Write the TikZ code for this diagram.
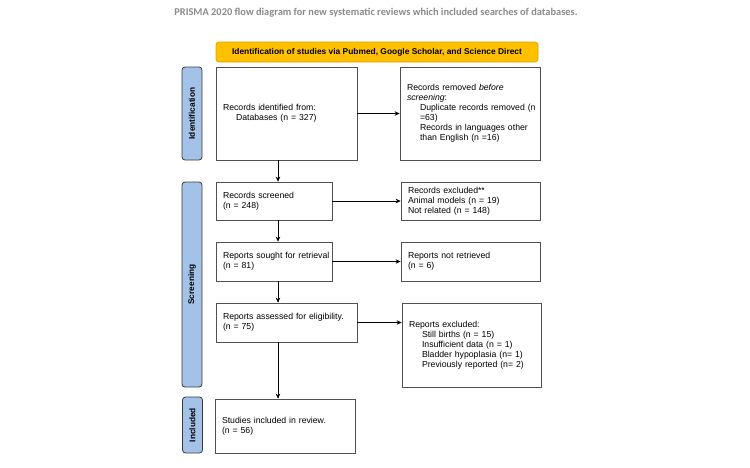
\documentclass[tikz,border=0pt]{standalone}
\usepackage{fontspec}
\setmainfont{Liberation Sans}
\newfontfamily\titlefont{Carlito}
\usetikzlibrary{arrows.meta}
\definecolor{boxline}{HTML}{505050}
\definecolor{sidefill}{HTML}{A4C2E8}
\definecolor{sideline}{HTML}{3A3A3A}
\definecolor{headfill}{HTML}{FFC000}
\definecolor{headline}{HTML}{D9A300}
\definecolor{titlegray}{HTML}{8A8A8A}
\newcommand{\ind}{\hspace*{13pt}}
\begin{document}
\begin{tikzpicture}[x=1pt,y=-1pt,
  box/.style={draw=boxline, line width=0.7pt, align=left, inner xsep=7pt, inner ysep=2pt,
    font=\fontsize{8.7}{10}\selectfont},
  sidebar/.style={draw=sideline, fill=sidefill, rounded corners=3pt, line width=0.8pt,
    font=\bfseries\fontsize{8.3}{10}\selectfont, rotate=90, minimum height=20pt, inner sep=0pt},
  arr/.style={draw=black, line width=0.7pt, -{Stealth[length=5pt,width=4.5pt]}}]
\useasboundingbox (0,0) rectangle (750,467);
\node[font=\titlefont\bfseries\fontsize{10.4}{12}\selectfont, text=titlegray] (title) at (376,13)
  {PRISMA 2020 flow diagram for new systematic reviews which included searches of databases.};
\node[draw=headline, fill=headfill, rounded corners=3pt, line width=0.7pt, minimum width=322pt,
  minimum height=20pt, inner sep=0pt, font=\bfseries\fontsize{8.4}{10}\selectfont] (head) at (377,52)
  {Identification of studies via Pubmed, Google Scholar, and Science Direct};
\node[sidebar, minimum width=93pt] (s1) at (192,113.5) {Identification};
\node[sidebar, minimum width=205pt] (s2) at (192,284.5) {Screening};
\node[sidebar, minimum width=56pt] (s3) at (192.5,425) {Included};
\node[box, text width=127pt, minimum height=93pt] (b1) at (286.5,113.5)
  {Records identified from:\\\ind Databases (n = 327)};
\node[box, text width=126pt, minimum height=93pt] (b2) at (470,113.5)
  {Records removed \textit{before}\\\textit{screening}:\\\ind\mbox{Duplicate records removed (n}\\\ind =63)\\\ind\mbox{Records in languages other}\\\ind than English (n =16)};
\node[box, text width=102pt, minimum height=38pt] (b3) at (274,201)
  {Records screened\\(n = 248)};
\node[box, text width=125pt, minimum height=38pt] (b4) at (470.5,201)
  {Records excluded**\\Animal models (n = 19)\\Not related (n = 148)};
\node[box, text width=102pt, minimum height=39pt] (b5) at (274,261.5)
  {\mbox{Reports sought for retrieval}\\(n = 81)};
\node[box, text width=125pt, minimum height=39pt] (b6) at (470.5,261.5)
  {Reports not retrieved\\(n = 6)};
\node[box, text width=127pt, minimum height=39pt] (b7) at (286.5,322.5)
  {\mbox{Reports assessed for eligibility.}\\(n = 75)};
\node[box, text width=125pt, minimum height=84pt] (b8) at (471.5,345)
  {Reports excluded:\\\ind Still births (n = 15)\\\ind Insufficient data (n = 1)\\\ind Bladder hypoplasia (n= 1)\\\ind Previously reported (n= 2)};
\node[box, text width=126pt, minimum height=54pt] (b9) at (285,426)
  {Studies included in review.\\(n = 56)};
\coordinate (ax) at (278,0);
\draw[arr] (b1.south -| ax) -- (b3.north -| ax);
\draw[arr] (b3.south -| ax) -- (b5.north -| ax);
\draw[arr] (b5.south -| ax) -- (b7.north -| ax);
\draw[arr] (b7.south -| ax) -- (b9.north -| ax);
\draw[arr] (b1.east) -- (b2.west);
\draw[arr] (b3.east) -- (b4.west);
\draw[arr] (b5.east) -- (b6.west);
\draw[arr] (b7.east) -- (b7.east -| b8.west);
\end{tikzpicture}
\end{document}
